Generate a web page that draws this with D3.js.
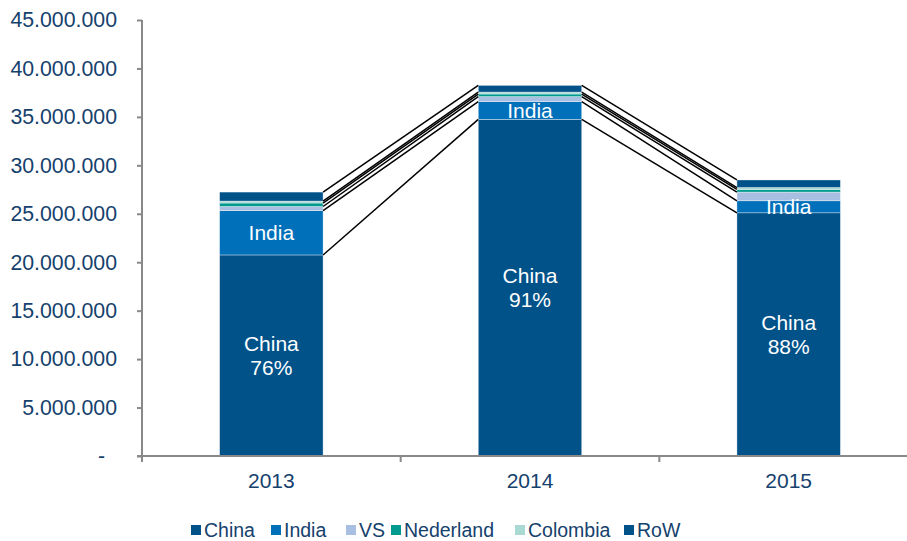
<!DOCTYPE html>
<html>
<head>
<meta charset="utf-8">
<script src="https://cdn.jsdelivr.net/npm/d3@7"></script>
<style>
  html, body { margin: 0; padding: 0; background: #fff; }
  svg { display: block; font-family: "Liberation Sans", Arial, sans-serif; }
</style>
</head>
<body>
<svg id="chart" width="907" height="541"></svg>
<script>
// ---- data ----
const years = ["2013", "2014", "2015"];
const seriesNames = ["China", "India", "VS", "Nederland", "Colombia", "RoW"];
const china     = [20750000, 34750000, 25100000];
const india     = [4570000, 1820000, 1240000];
const vs        = [430000, 520000, 900000];
const nederland = [360000, 270000, 270000];
const colombia  = [200000, 200000, 200000];
const row       = [930000, 690000, 780000];
const yTicks = [0, 5000000, 10000000, 15000000, 20000000, 25000000, 30000000, 35000000, 40000000, 45000000];
const colors = ["#005289", "#0070BA", "#A9BFE2", "#009A8E", "#A9D9D3", "#005289"];

const seriesValues = [china, india, vs, nederland, colombia, row];
const table = years.map((y, i) => {
  const o = { year: y };
  seriesNames.forEach((s, k) => o[s] = seriesValues[k][i]);
  return o;
});

const svg = d3.select("#chart");
const textColor = "#15416D";
const axisColor = "#898989";

const x = d3.scaleBand().domain(years).range([142, 918]).paddingInner(0.6).paddingOuter(0.3);
const y = d3.scaleLinear().domain([0, 45000000]).range([456, 20]);

const stack = d3.stack().keys(seriesNames)(table);

// bars
const g = svg.append("g");
stack.forEach((layer, k) => {
  g.selectAll(null).data(layer).enter().append("rect")
    .attr("x", d => x(d.data.year))
    .attr("width", x.bandwidth())
    .attr("y", d => y(d[1]))
    .attr("height", d => y(d[0]) - y(d[1]))
    .attr("fill", colors[k])
    .attr("stroke", "#ffffff")
    .attr("stroke-opacity", 0.6)
    .attr("stroke-width", 0.6);
});

// connector lines
stack.forEach(layer => {
  for (let i = 0; i < years.length - 1; i++) {
    svg.append("line")
      .attr("x1", x(years[i]) + x.bandwidth())
      .attr("y1", y(layer[i][1]))
      .attr("x2", x(years[i + 1]))
      .attr("y2", y(layer[i + 1][1]))
      .attr("stroke", "#000")
      .attr("stroke-width", 1.5);
  }
});

// y axis
const fmt = d => d === 0 ? "-" : d3.format(",")(d).replace(/,/g, ".");
const yAxis = svg.append("g").attr("transform", "translate(142,0)")
  .call(d3.axisLeft(y).tickValues(yTicks).tickFormat(fmt).tickSize(5).tickPadding(20));
yAxis.select(".domain").attr("stroke", axisColor).attr("stroke-width", 2).attr("d", "M0,20V456");
yAxis.selectAll(".tick line").attr("stroke", axisColor).attr("stroke-width", 2);
yAxis.selectAll(".tick text").attr("fill", textColor).style("font-size", "21.3px")
  .attr("font-family", "Liberation Sans, Arial, sans-serif")
  .attr("dx", d => d === 0 ? -12 : 0);

// x axis
const xAxis = svg.append("g").attr("transform", "translate(0,456)")
  .call(d3.axisBottom(x).tickSize(0).tickPadding(17));
xAxis.select(".domain").attr("stroke", axisColor).attr("stroke-width", 2).attr("d", "M137,0H918");
xAxis.selectAll(".tick text").attr("fill", textColor).style("font-size", "21px")
  .attr("font-family", "Liberation Sans, Arial, sans-serif");
const bounds = d3.range(years.length + 1).map(i => x.range()[0] + i * x.step());
xAxis.selectAll(".bound").data(bounds).enter().append("line")
  .attr("x1", d => d).attr("x2", d => d).attr("y1", 0).attr("y2", 6)
  .attr("stroke", axisColor).attr("stroke-width", 2);

// in-bar labels
const chinaLayer = stack[0];
chinaLayer.forEach(d => {
  const cx = x(d.data.year) + x.bandwidth() / 2;
  const cy = (y(d[0]) + y(d[1])) / 2;
  const total = seriesNames.reduce((s, k) => s + d.data[k], 0);
  const pct = Math.round(d.data.China / total * 100) + "%";
  svg.append("text").attr("x", cx).attr("y", cy - 12).attr("dy", "0.35em")
    .attr("text-anchor", "middle").attr("fill", "#fff").style("font-size", "21px").text("China");
  svg.append("text").attr("x", cx).attr("y", cy + 12).attr("dy", "0.35em")
    .attr("text-anchor", "middle").attr("fill", "#fff").style("font-size", "21px").text(pct);
});
stack[1].forEach(d => {
  const cx = x(d.data.year) + x.bandwidth() / 2;
  const cy = (y(d[0]) + y(d[1])) / 2;
  svg.append("text").attr("x", cx).attr("y", cy).attr("dy", "0.35em")
    .attr("text-anchor", "middle").attr("fill", "#fff").style("font-size", "21px").text("India");
});

// legend
const legendX = [191, 271, 346, 391, 515, 624];
const lg = svg.append("g");
seriesNames.forEach((s, k) => {
  lg.append("rect").attr("x", legendX[k]).attr("y", 525).attr("width", 10).attr("height", 10).attr("fill", colors[k]);
  lg.append("text").attr("x", legendX[k] + 13).attr("y", 530).attr("dy", "0.35em")
    .attr("fill", textColor).style("font-size", "19.5px").text(s);
});
</script>
</body>
</html>
